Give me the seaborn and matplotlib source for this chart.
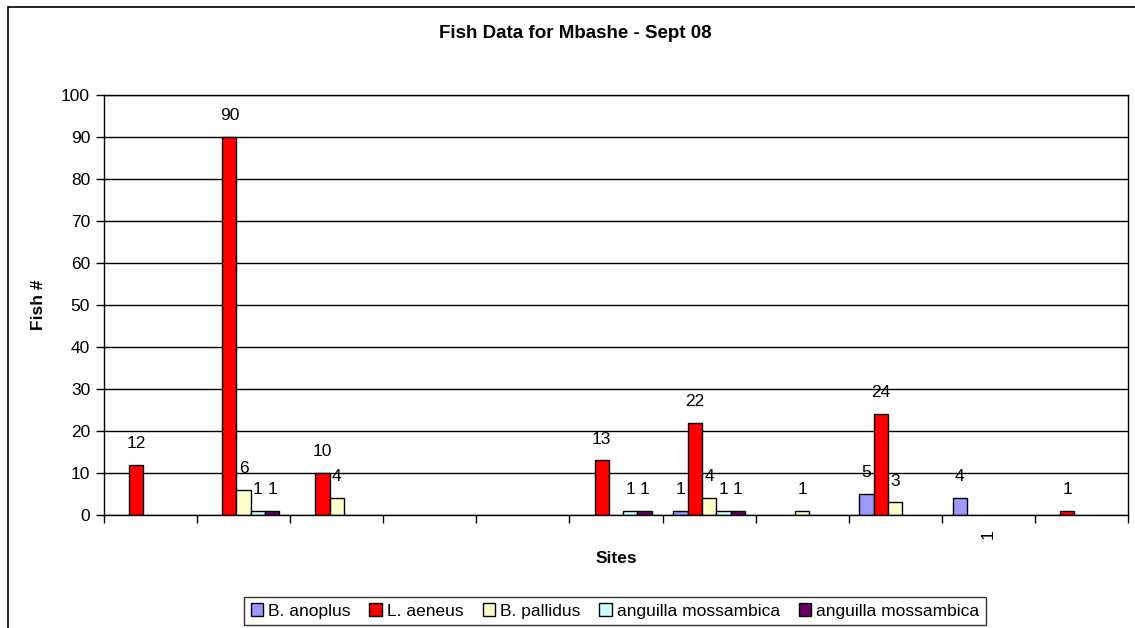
import numpy as np
import pandas as pd
import matplotlib
matplotlib.use("Agg")
import matplotlib.pyplot as plt
from matplotlib.patches import Rectangle
import seaborn as sns

# Sites (x categories) and their printed tick labels
sites = [f"S{i}" for i in range(1, 12)]
site_labels = ["", "", "", "", "", "", "", "", "", "1", ""]

# Series names and colours (two series share the same name in the source)
series_names = ["B. anoplus", "L. aeneus", "B. pallidus",
                "anguilla mossambica", "anguilla mossambica"]
series_colors = ["#9999FF", "#FF0000", "#FFFFCC", "#CCFFFF", "#660066"]

# Fish counts per site (None = no fish recorded)
b_anoplus = [None, None, None, None, None, None, 1, None, 5, 4, None]
l_aeneus = [12, 90, 10, None, None, 13, 22, None, 24, None, 1]
b_pallidus = [None, 6, 4, None, None, None, 4, 1, 3, None, None]
anguilla_1 = [None, 1, None, None, None, 1, 1, None, None, None, None]
anguilla_2 = [None, 1, None, None, None, 1, 1, None, None, None, None]

all_series = [b_anoplus, l_aeneus, b_pallidus, anguilla_1, anguilla_2]

rows = []
for k, vals in enumerate(all_series):
    for site, v in zip(sites, vals):
        if v is not None:
            rows.append({"site": site, "series": k, "count": v})
df = pd.DataFrame(rows)

plt.rcParams["font.family"] = ["Liberation Sans", "DejaVu Sans"]

W, H = 1135, 628
fig = plt.figure(figsize=(W / 100, H / 100), dpi=100)
ax = fig.add_axes([104 / W, 1 - 515 / H, (1128 - 104) / W, (515 - 95) / H])

# outer chart frame
fig.patches.append(Rectangle((8 / W, -0.2), 1.5, 1.2 - 7 / H, transform=fig.transFigure,
                             fill=False, edgecolor="#000000", linewidth=1.2))

sns.barplot(data=df, x="site", y="count", hue="series", order=sites,
            hue_order=list(range(5)), palette=series_colors, saturation=1,
            width=5 / 6.5, edgecolor="black", linewidth=1.0, ax=ax, legend=True)

for cont in ax.containers:
    ax.bar_label(cont, fmt="%d", padding=10, fontsize=12.5)

ax.set_xlim(-0.5, len(sites) - 0.5)
ax.set_ylim(0, 100)
ax.set_yticks(np.arange(0, 101, 10))
ax.tick_params(axis="y", labelsize=12.5, length=6, width=1, color="black", pad=4)
ax.yaxis.grid(True, color="black", linewidth=1)
ax.set_axisbelow(True)

# category ticks sit between the sites, labels at the centres
ax.set_xticks(np.arange(-0.5, len(sites), 1.0))
ax.set_xticklabels([])
ax.tick_params(axis="x", which="major", length=6, width=1, color="black")
ax.set_xticks(np.arange(len(sites)), minor=True)
ax.set_xticklabels(site_labels, minor=True, rotation=90, fontsize=12.5)
ax.tick_params(axis="x", which="minor", length=0, pad=10)

for s in ax.spines.values():
    s.set_color("black")
    s.set_linewidth(1)

ax.set_xlabel("Sites", fontsize=12.5, fontweight="bold", labelpad=9)
ax.set_ylabel("Fish #", fontsize=12.5, fontweight="bold", labelpad=11)
fig.text(575 / W, 1 - 33 / H, "Fish Data for Mbashe - Sept 08", ha="center", va="center",
         fontsize=13.5, fontweight="bold")

handles, _ = ax.get_legend_handles_labels()
ax.legend_.remove()
leg = fig.legend(handles, series_names, loc="center", bbox_to_anchor=(615 / W, 1 - 611 / H),
                 ncol=5, fontsize=12.5, frameon=True, fancybox=False, edgecolor="black",
                 handlelength=0.7, handleheight=0.7, handletextpad=0.3, columnspacing=1.1,
                 borderpad=0.35)
leg.get_frame().set_linewidth(1)

fig.savefig("out.png", dpi=100)
